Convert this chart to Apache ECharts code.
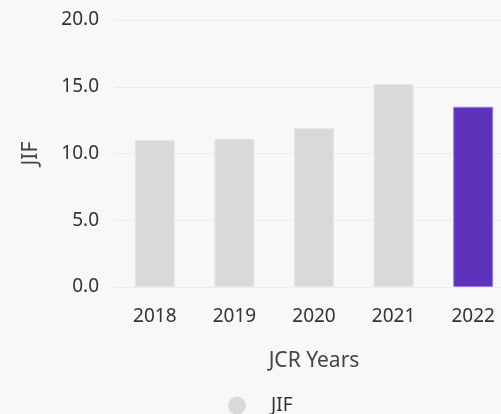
<!DOCTYPE html>
<html>
<head>
<meta charset="utf-8">
<script src="https://cdn.jsdelivr.net/npm/echarts@6/dist/echarts.min.js"></script>
<style>
html,body{margin:0;padding:0;background:#f8f8f8;}
#chart{width:501px;height:414px;}
</style>
</head>
<body>
<div id="chart"></div>
<script>
const categories = ['2018', '2019', '2020', '2021', '2022'];
const jifValues = [11.0, 11.1, 11.9, 15.2, 13.5];
const yTicks = [0, 5, 10, 15, 20];
const seriesName = 'JIF';
const highlightIndex = 4;

const chart = echarts.init(document.getElementById('chart'), null, {renderer: 'canvas'});
const FONT = 'Noto Sans';
chart.setOption({
  backgroundColor: '#f8f8f8',
  animation: false,
  grid: {left: 115, width: 398, top: 20, bottom: 127, containLabel: false, outerBoundsMode: 'none'},
  legend: {
    data: [{name: seriesName, itemStyle: {color: '#d9d9d9'}}],
    left: 228, top: 396, padding: 0,
    icon: 'circle', itemWidth: 18, itemHeight: 18, itemGap: 10,
    textStyle: {fontFamily: FONT, fontSize: 19, color: '#333', padding: [0, 0, 0, 20]}
  },
  xAxis: {
    type: 'category',
    data: categories,
    name: 'JCR Years',
    nameLocation: 'middle',
    nameGap: 64,
    nameTextStyle: {fontFamily: FONT, fontSize: 21, color: '#444'},
    axisLine: {show: true, lineStyle: {color: '#ececec'}},
    axisTick: {show: false},
    axisLabel: {fontFamily: FONT, fontSize: 19, color: '#333', margin: 20}
  },
  yAxis: {
    type: 'value',
    min: yTicks[0], max: yTicks[yTicks.length - 1], interval: 5,
    name: seriesName,
    nameLocation: 'middle',
    nameGap: 73,
    nameTextStyle: {fontFamily: FONT, fontSize: 21, color: '#444'},
    axisLine: {show: false},
    axisTick: {show: false},
    splitLine: {lineStyle: {color: '#ececec', width: 1}},
    axisLabel: {fontFamily: FONT, fontSize: 19, color: '#333', margin: 16,
      formatter: v => v.toFixed(1)}
  },
  series: [{
    name: seriesName,
    type: 'bar',
    barWidth: 40,
    data: jifValues.map((v, i) => ({
      value: v,
      itemStyle: i === highlightIndex
        ? {color: '#5e33bb', borderColor: '#9c80e0', borderWidth: 1}
        : {color: '#d9d9d9', borderColor: '#e6e6e6', borderWidth: 1}
    }))
  }]
});
</script>
</body>
</html>
